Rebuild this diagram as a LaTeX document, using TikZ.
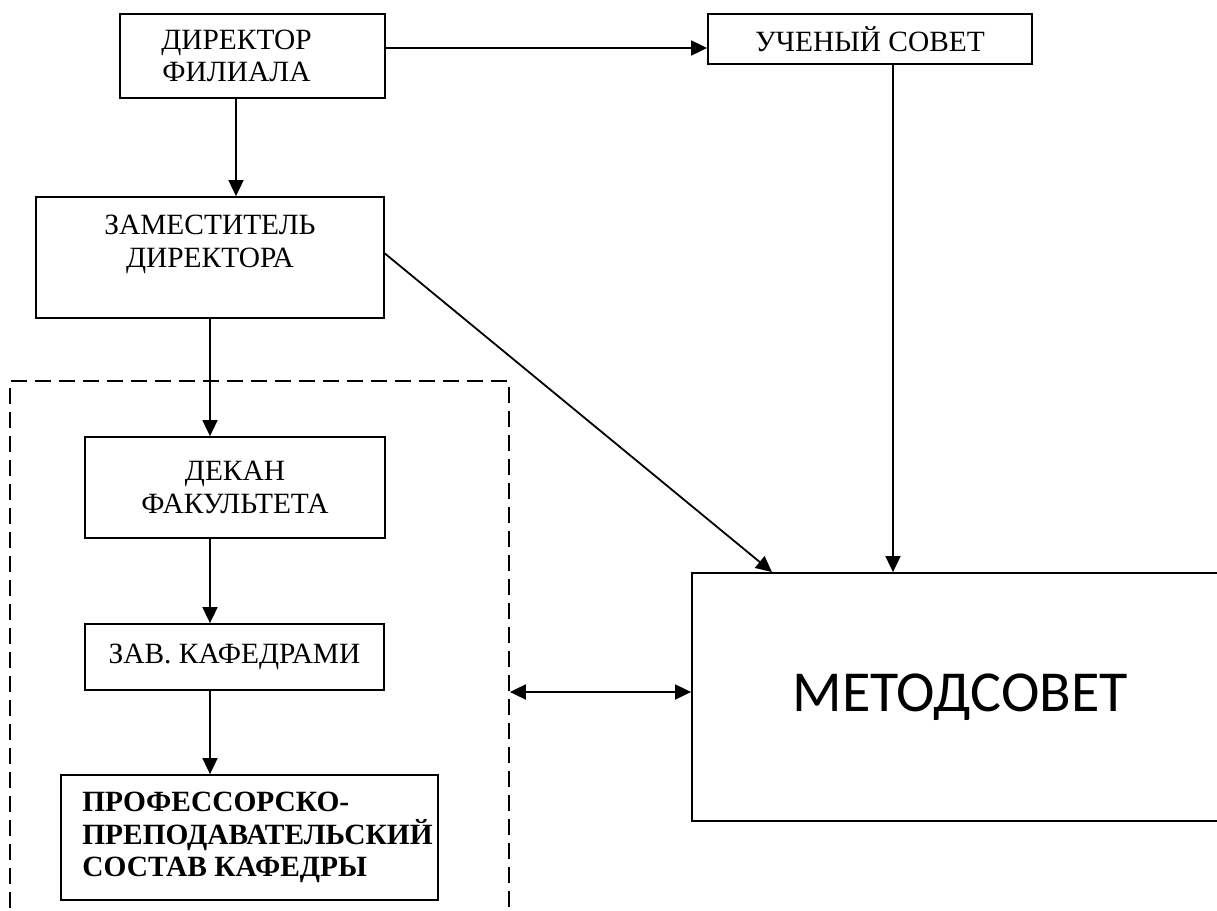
\documentclass[tikz,border=0pt]{standalone}
\usepackage{fontspec}
\setmainfont{Liberation Serif}
\newfontfamily\calfont{Carlito}
\usepackage{tikz}
\usetikzlibrary{arrows.meta}

\begin{document}
\begin{tikzpicture}[x=0.5pt,y=-0.5pt,
		box/.style={draw,line width=0.9pt,align=center,inner sep=0pt,
			font=\fontsize{14.7}{16.3}\selectfont},
		grp/.style={draw,line width=0.9pt,dash pattern=on 8pt off 4pt},
		arr/.style={line width=0.9pt,-{Triangle[length=8pt,width=7.5pt]}}]
		\useasboundingbox (0,0) rectangle (1217,911);
		\clip (0,0) rectangle (1217,911);
		\node[box,minimum width=132.5pt,minimum height=42pt] (dir) at (252.5,56) {ДИРЕКТОР\hspace*{16pt}\\ФИЛИАЛА\hspace*{16pt}};
		\node[box,minimum width=162pt,minimum height=25pt] (uch) at (870,39) {УЧЕНЫЙ СОВЕТ};
		\node[box,minimum width=174pt,minimum height=60.5pt] (zam) at (210,257.5) {ЗАМЕСТИТЕЛЬ\\ДИРЕКТОРА\\~};
		\node[grp,minimum width=249.5pt,minimum height=289.5pt] (grp) at (259.5,670.5) {};
		\node[box,minimum width=150pt,minimum height=50.5pt] (dek) at (235,487.5) {ДЕКАН\\ФАКУЛЬТЕТА};
		\node[box,minimum width=149.5pt,minimum height=33pt] (zav) at (234.5,657) {ЗАВ. КАФЕДРАМИ};
		\node[box,align=left,minimum width=188.5pt,minimum height=62.5pt,font=\fontsize{14.7}{16.3}\selectfont\bfseries] (pps) at (249.5,837.5) {\hspace*{8pt}ПРОФЕССОРСКО-\\\hspace*{8pt}ПРЕПОДАВАТЕЛЬСКИЙ\\\hspace*{8pt}СОСТАВ КАФЕДРЫ};
		\node[box,minimum width=268pt,minimum height=124pt,font=\fontsize{29}{34}\calfont] (met) at (960,697) {МЕТОДСОВЕТ};
		%
		\coordinate (d1) at ([yshift=4pt]dir.east);
		\coordinate (z1) at ([yshift=2pt]zam.east);
		\coordinate (u1) at ([xshift=11.5pt]uch.south);
		\coordinate (m1) at ([xshift=-94pt]met.north);
		\coordinate (m2) at ([yshift=2.5pt]met.west);
		\coordinate (c1) at ([xshift=-8.25pt]dir.south);
		\draw[arr] (d1) -- (d1 -| uch.west);
		\draw[arr] (c1) -- (c1 |- zam.north);
		\draw[arr] (z1) -- (m1);
		\draw[arr] (u1) -- (u1 |- met.north);
		\draw[arr] (zam.south) -- (zam.south |- dek.north);
		\draw[arr] (zam.south |- dek.south) -- (zam.south |- zav.north);
		\draw[arr] (zam.south |- zav.south) -- (zam.south |- pps.north);
		\draw[arr,{Triangle[length=8pt,width=7.5pt]}-{Triangle[length=8pt,width=7.5pt]}] (m2 -| grp.east) -- (m2);
\end{tikzpicture}
\end{document}
